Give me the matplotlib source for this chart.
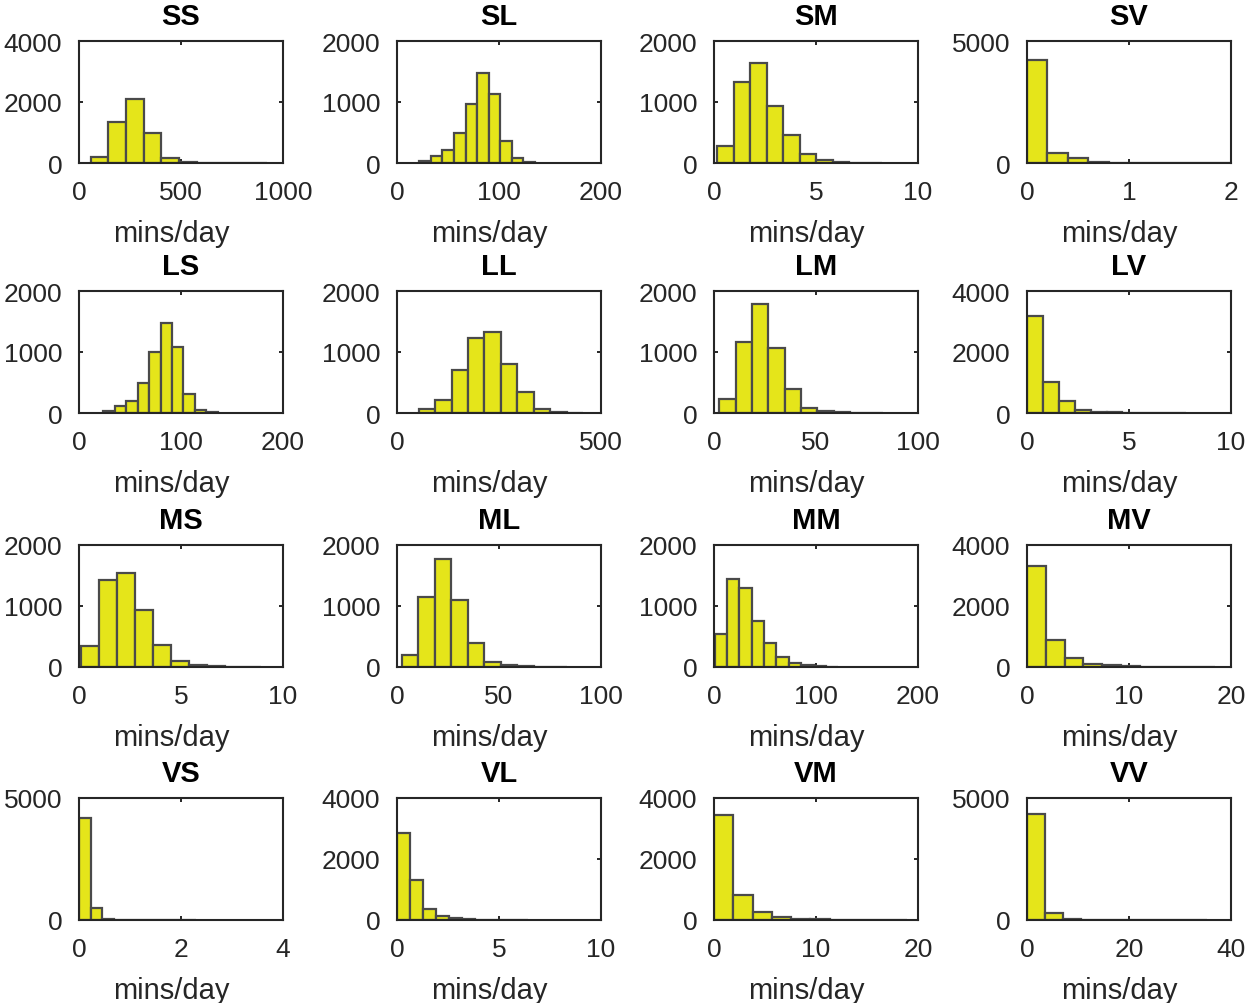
import matplotlib.pyplot as plt
import numpy as np

plt.rcParams['font.family'] = ['Liberation Sans', 'DejaVu Sans']

# Histograms of daily minutes, one per transition type, 10 bins each
titles = ['SS', 'SL', 'SM', 'SV',
          'LS', 'LL', 'LM', 'LV',
          'MS', 'ML', 'MM', 'MV',
          'VS', 'VL', 'VM', 'VV']

# range covered by the 10 bins of each histogram
bin_lo = [58, 22, 0.16, 0.0,
          24, 53, 2.6, 0.0,
          0.1, 2.3, 0.5, 0.0,
          0.0, 0.0, 0.0, 0.0]
bin_hi = [922, 135, 8.25, 2.0,
          136, 456, 82.6, 7.8,
          8.9, 83.2, 122, 18.4,
          2.3, 6.4, 18.9, 35.3]

counts = [
    [200, 1360, 2110, 970, 160, 40, 10, 5, 3, 2],       # SS
    [30, 120, 212, 485, 975, 1470, 1128, 354, 76, 12],  # SL
    [283, 1335, 1646, 937, 463, 147, 44, 12, 5, 3],     # SM
    [4210, 409, 204, 40, 20, 10, 5, 3, 2, 1],           # SV
    [27, 120, 200, 490, 1003, 1482, 1074, 310, 50, 10], # LS
    [65, 218, 703, 1226, 1330, 801, 338, 65, 20, 5],    # LL
    [223, 1166, 1793, 1073, 392, 82, 30, 10, 5, 2],     # LM
    [3183, 1025, 403, 98, 40, 20, 10, 5, 3, 2],         # LV
    [344, 1419, 1538, 935, 366, 97, 32, 10, 5, 3],      # MS
    [199, 1140, 1774, 1102, 398, 75, 30, 10, 5, 3],     # ML
    [548, 1435, 1290, 753, 398, 156, 65, 30, 12, 5],    # MM
    [3323, 882, 290, 108, 50, 20, 10, 5, 3, 2],         # MV
    [4189, 500, 60, 20, 10, 5, 3, 2, 1, 1],             # VS
    [2843, 1297, 368, 130, 60, 30, 15, 8, 4, 2],        # VL
    [3459, 832, 249, 100, 43, 20, 10, 5, 3, 2],         # VM
    [4324, 270, 60, 20, 10, 5, 3, 2, 1, 1],             # VV
]

x_ticks = [[0, 500, 1000], [0, 100, 200], [0, 5, 10], [0, 1, 2],
           [0, 100, 200], [0, 500], [0, 50, 100], [0, 5, 10],
           [0, 5, 10], [0, 50, 100], [0, 100, 200], [0, 10, 20],
           [0, 2, 4], [0, 5, 10], [0, 10, 20], [0, 20, 40]]
y_ticks = [[0, 2000, 4000], [0, 1000, 2000], [0, 1000, 2000], [0, 5000],
           [0, 1000, 2000], [0, 1000, 2000], [0, 1000, 2000], [0, 2000, 4000],
           [0, 1000, 2000], [0, 1000, 2000], [0, 1000, 2000], [0, 2000, 4000],
           [0, 5000], [0, 2000, 4000], [0, 2000, 4000], [0, 5000]]

W, H = 1245, 1004
fig = plt.figure(figsize=(W / 100, H / 100), dpi=100)

col_left = [79, 397, 714, 1027]
row_top = [42, 292, 546, 799]
ax_w, ax_h = 204, 122

dark = '#262626'
bar_face = '#e5e51a'
bar_edge = '#4a4a4a'

for i, name in enumerate(titles):
    r, c = divmod(i, 4)
    ax = fig.add_axes([col_left[c] / W, 1 - (row_top[r] + ax_h) / H, ax_w / W, ax_h / H])
    edges = np.linspace(bin_lo[i], bin_hi[i], len(counts[i]) + 1)
    ax.bar(edges[:-1], counts[i], width=np.diff(edges), align='edge',
           color=bar_face, edgecolor=bar_edge, linewidth=1.6, zorder=2)
    ax.set_xlim(x_ticks[i][0], x_ticks[i][-1])
    ax.set_ylim(y_ticks[i][0], y_ticks[i][-1])
    ax.set_xticks(x_ticks[i])
    ax.set_yticks(y_ticks[i])
    ax.tick_params(direction='in', length=3, width=1.4, top=True, right=True,
                   color=dark, labelcolor=dark, labelsize=19)
    ax.tick_params(axis='x', pad=12)
    ax.tick_params(axis='y', pad=12)
    for s in ax.spines.values():
        s.set_color(dark)
        s.set_linewidth(1.5)
        s.set_zorder(3)
    ax.set_title(name, fontsize=21, fontweight='bold', color='black', pad=12)
    ax.set_xlabel('mins/day', fontsize=21, color=dark, labelpad=11, x=0.455)

fig.savefig('out.png', dpi=100)
